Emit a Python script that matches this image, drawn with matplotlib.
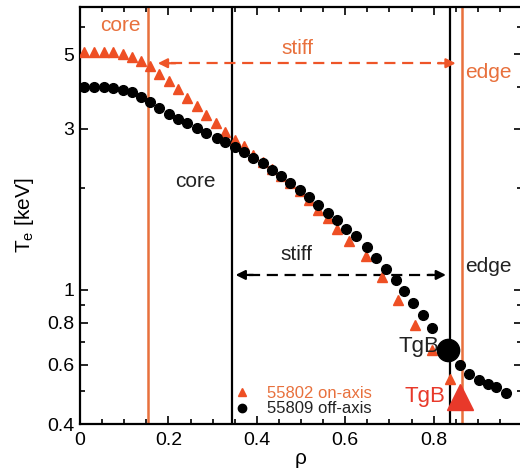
import matplotlib
matplotlib.use("Agg")
import matplotlib.pyplot as plt
from matplotlib.lines import Line2D
from matplotlib.ticker import FixedLocator, NullFormatter, FixedFormatter

plt.rcParams['font.family'] = ['Liberation Sans', 'DejaVu Sans']

# ---- data ----
rho_off = [0.009, 0.032, 0.054, 0.074, 0.097, 0.117, 0.138, 0.158, 0.178, 0.201,
           0.221, 0.241, 0.264, 0.286, 0.309, 0.329, 0.350, 0.370, 0.392, 0.413,
           0.435, 0.455, 0.476, 0.498, 0.519, 0.539, 0.562, 0.582, 0.602, 0.624,
           0.649, 0.670, 0.692, 0.715, 0.733, 0.753, 0.776, 0.796, 0.859, 0.879,
           0.902, 0.922, 0.942, 0.963]
te_off = [3.99, 3.99, 3.99, 3.96, 3.91, 3.85, 3.73, 3.60, 3.46, 3.32,
          3.21, 3.12, 3.02, 2.92, 2.82, 2.75, 2.65, 2.57, 2.46, 2.37,
          2.27, 2.18, 2.08, 1.98, 1.89, 1.78, 1.69, 1.61, 1.51, 1.44,
          1.34, 1.24, 1.15, 1.07, 0.99, 0.915, 0.844, 0.773, 0.597, 0.562,
          0.540, 0.525, 0.515, 0.494]

rho_on = [0.009, 0.032, 0.054, 0.074, 0.097, 0.117, 0.138, 0.158, 0.178, 0.201,
          0.221, 0.241, 0.264, 0.284, 0.307, 0.329, 0.350, 0.370, 0.392, 0.413,
          0.435, 0.455, 0.476, 0.498, 0.519, 0.539, 0.562, 0.582, 0.609, 0.647,
          0.683, 0.719, 0.758, 0.796, 0.837]
te_on = [5.09, 5.09, 5.09, 5.06, 5.02, 4.92, 4.76, 4.60, 4.36, 4.15,
         3.93, 3.70, 3.51, 3.30, 3.12, 2.94, 2.78, 2.67, 2.51, 2.40,
         2.29, 2.18, 2.07, 1.96, 1.85, 1.73, 1.63, 1.52, 1.40, 1.26,
         1.09, 0.934, 0.789, 0.661, 0.543]

tgb_off = (0.832, 0.661)   # big black circle
tgb_on = (0.859, 0.481)    # big red triangle

core_on, edge_on = 0.153, 0.865     # orange boundaries
core_off, edge_off = 0.343, 0.838   # black boundaries
stiff_on_y, stiff_off_y = 4.70, 1.107

label_on = "55802 on-axis"
label_off = "55809 off-axis"

xticks_major = [0, 0.2, 0.4, 0.6, 0.8, 1.0]
xtick_labels = ["0", "0.2", "0.4", "0.6", "0.8", ""]
yticks_major = [0.4, 0.6, 0.8, 1, 3, 5]
ytick_labels = ["0.4", "0.6", "0.8", "1", "3", "5"]
yticks_minor = [0.5, 0.7, 0.9, 2, 4, 6]

ORANGE = "#e8703c"
TRI = "#ee4f24"
RED = "#e8392a"

fig = plt.figure(figsize=(5.2, 4.69), dpi=100)
ax = fig.add_axes([80/520, 1-424/469, 442/520, (424-7)/469])
ax.set_yscale('log')
ax.set_xlim(0, 1.0)
ax.set_ylim(0.4, 6.9)

# vertical boundaries
ax.axvline(core_on, color=ORANGE, lw=1.8, zorder=1)
ax.axvline(edge_on, color=ORANGE, lw=1.8, zorder=1)
ax.axvline(core_off, color='black', lw=1.6, zorder=1)
ax.axvline(edge_off, color='black', lw=1.6, zorder=1)

# data
ax.plot(rho_on, te_on, linestyle='none', marker='^', ms=7, color=TRI, mec=TRI, zorder=3)
ax.plot(rho_off, te_off, linestyle='none', marker='o', ms=7, color='black', zorder=4)
ax.plot([tgb_off[0]], [tgb_off[1]], marker='o', ms=16, color='black', zorder=5, linestyle='none')
ax.plot([tgb_on[0]], [tgb_on[1]], marker='^', ms=19, color=RED, zorder=5, linestyle='none')

# stiff arrows
def dashed_arrow(x0, x1, y, color):
    ax.plot([x0 + 0.03, x1 - 0.03], [y, y], color=color, lw=1.6, ls=(0, (5, 3)), zorder=2)
    for xa, xb in [(x0 + 0.04, x0), (x1 - 0.04, x1)]:
        ax.annotate("", xy=(xb, y), xytext=(xa, y),
                    arrowprops=dict(arrowstyle='-|>', color=color, lw=1.6,
                                    mutation_scale=14, shrinkA=0, shrinkB=0),
                    zorder=2)

dashed_arrow(0.176, 0.850, stiff_on_y, "#ee5528")
dashed_arrow(0.352, 0.828, stiff_off_y, 'black')

# texts
ax.text(0.092, 6.1, "core", color=ORANGE, fontsize=15, ha='center', va='center')
ax.text(0.492, 5.2, "stiff", color=ORANGE, fontsize=15, ha='center', va='center')
ax.text(0.872, 4.4, "edge", color=ORANGE, fontsize=15, ha='left', va='center')
ax.text(0.262, 2.1, "core", color='#222222', fontsize=15, ha='center', va='center')
ax.text(0.490, 1.27, "stiff", color='#222222', fontsize=15, ha='center', va='center')
ax.text(0.872, 1.17, "edge", color='#222222', fontsize=15, ha='left', va='center')
ax.text(0.814, 0.68, "TgB", color='#222222', fontsize=16, ha='right', va='center')
ax.text(0.827, 0.482, "TgB", color=RED, fontsize=16, ha='right', va='center')

# legend
handles = [Line2D([], [], ls='none', marker='^', ms=6, color=TRI),
           Line2D([], [], ls='none', marker='o', ms=6, color='black')]
leg = ax.legend(handles, [label_on, label_off], loc='lower left',
                bbox_to_anchor=(0.345, 0.01), frameon=False, fontsize=12,
                handlelength=0.8, handletextpad=1.1, labelspacing=0.05,
                borderpad=0.2, borderaxespad=0)
leg.get_texts()[0].set_color(ORANGE)
leg.get_texts()[1].set_color('#222222')

# ticks
ax.xaxis.set_major_locator(FixedLocator(xticks_major))
ax.xaxis.set_major_formatter(FixedFormatter(xtick_labels))
ax.xaxis.set_minor_locator(FixedLocator([i * 0.05 for i in range(21)]))
ax.yaxis.set_major_locator(FixedLocator(yticks_major))
ax.yaxis.set_major_formatter(FixedFormatter(ytick_labels))
ax.yaxis.set_minor_locator(FixedLocator(yticks_minor))
ax.yaxis.set_minor_formatter(NullFormatter())
ax.tick_params(which='both', direction='in', top=True, right=True, labelsize=14, width=1.2)
ax.tick_params(which='major', length=6)
ax.tick_params(which='minor', length=3.5)
ax.tick_params(axis='x', pad=6)
ax.tick_params(axis='y', pad=4)
for s in ax.spines.values():
    s.set_linewidth(1.6)

ax.set_xlabel("ρ", fontsize=15, labelpad=0)
ax.set_ylabel("T$_\\mathregular{e}$ [keV]", fontsize=15, labelpad=8)

fig.savefig("out.png", dpi=100)
